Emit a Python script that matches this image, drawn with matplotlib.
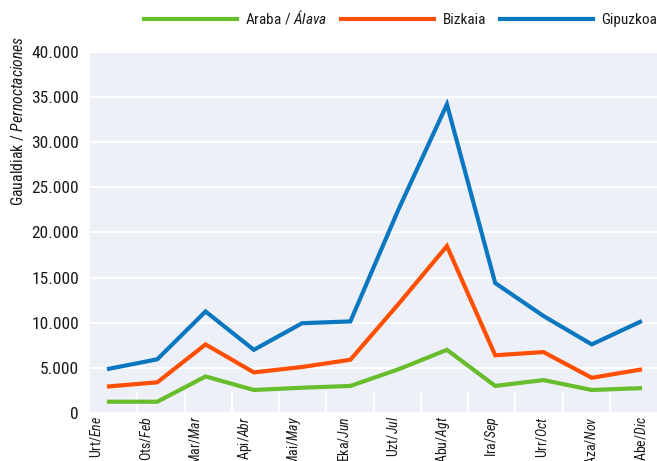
import matplotlib
matplotlib.use("Agg")
import matplotlib.pyplot as plt
import numpy as np
from matplotlib import font_manager
from matplotlib.transforms import blended_transform_factory
from matplotlib.ticker import FuncFormatter

# ---------------- data ----------------
months_eu = ["Urt", "Ots", "Mar", "Api", "Mai", "Eka", "Uzt", "Abu", "Ira", "Urr", "Aza", "Abe"]
months_es = ["Ene", "Feb", "Mar", "Abr", "May", "Jun", "Jul", "Agt", "Sep", "Oct", "Nov", "Dic"]
araba = [1250, 1250, 4050, 2550, 2800, 3000, 4850, 7000, 3000, 3650, 2550, 2750]
bizkaia = [2950, 3400, 7600, 4500, 5100, 5900, 12100, 18500, 6400, 6750, 3900, 4800]
gipuzkoa = [4900, 5950, 11250, 7000, 9950, 10150, 22600, 34200, 14400, 10750, 7600, 10100]
series_names = ["Araba / Álava", "Bizkaia", "Gipuzkoa"]
y_ticks = [0, 5000, 10000, 15000, 20000, 25000, 30000, 35000, 40000]

# ---------------- fonts ----------------
ents = font_manager.fontManager.ttflist
def has_italic(name):
    return any(f.name == name and f.style == "italic" for f in ents)
candidates = ["Roboto Condensed", "Archivo Narrow", "Fira Sans Condensed", "PT Sans Narrow",
              "Asap Condensed", "Barlow Condensed", "DejaVu Sans"]
base = next(c for c in candidates if any(f.name == c for f in ents))
plt.rcParams["font.family"] = [base, "DejaVu Sans"]
plt.rcParams["mathtext.fontset"] = "custom"
plt.rcParams["mathtext.rm"] = base
plt.rcParams["mathtext.it"] = base + (":italic" if has_italic(base) else "")
plt.rcParams["mathtext.bf"] = base + ":bold"

colors = ["#67bd2b", "#ff4f00", "#0a77c0"]
bg = "#eef0f8"
txt = "#1a1a1a"

fig = plt.figure(figsize=(6.57, 4.61), dpi=100)
W, H = 657, 461
ax_left, ax_right, ax_top, ax_bot = 90, 657, 52, 413
ax = fig.add_axes([ax_left / W, 1 - ax_bot / H, (ax_right - ax_left) / W, (ax_bot - ax_top) / H])
ax.set_facecolor(bg)
for s in ax.spines.values():
    s.set_visible(False)

x = np.arange(len(months_eu))
lines = []
for vals, c, name in zip([araba, bizkaia, gipuzkoa], colors, series_names):
    (ln,) = ax.plot(x, vals, color=c, lw=3.0, solid_joinstyle="miter", zorder=3)
    lines.append(ln)

ax.set_xlim(-0.394, 11.352)
ax.set_ylim(0, 40000)
ax.set_yticks(y_ticks)
ax.yaxis.set_major_formatter(FuncFormatter(lambda v, p: f"{int(v):,}".replace(",", ".")))
ax.tick_params(axis="y", length=0, pad=8, labelsize=12.5, labelcolor=txt)
ax.grid(axis="y", color="white", lw=1.6, zorder=1)
ax.set_axisbelow(True)
ax.set_xticks([])

# category band separators
for k in range(1, 12):
    ax.plot([k / 12, k / 12], [0, 0.055], transform=ax.transAxes, color="white", lw=1.6, zorder=2)

# x labels (rotated, top anchored just below the plot)
trans = blended_transform_factory(ax.transData, fig.transFigure)
label_pos = np.linspace(-0.27, 11.02, 12)
for xp, eu, es in zip(label_pos, months_eu, months_es):
    fig.text(xp, 1 - 416 / H, eu + "/$\\mathit{" + es + "}$", rotation=90, ha="center", va="top",
             fontsize=10, color=txt, transform=trans)

ax.set_ylabel("Gaualdiak / $\\mathit{Pernoctaciones}$", fontsize=11.3, color=txt)
ax.yaxis.set_label_coords(-0.112, 0.81)

labels = ["Araba / $\\mathit{Álava}$", "Bizkaia", "Gipuzkoa"]
leg = fig.legend(lines, labels, loc="center right", bbox_to_anchor=(1.0, 1 - 18 / H), ncol=3,
                 frameon=False, fontsize=11, handlelength=6.1, handletextpad=0.55,
                 columnspacing=0.9, borderaxespad=0, borderpad=0)
for t in leg.get_texts():
    t.set_color(txt)

fig.savefig("out.png", dpi=100)
